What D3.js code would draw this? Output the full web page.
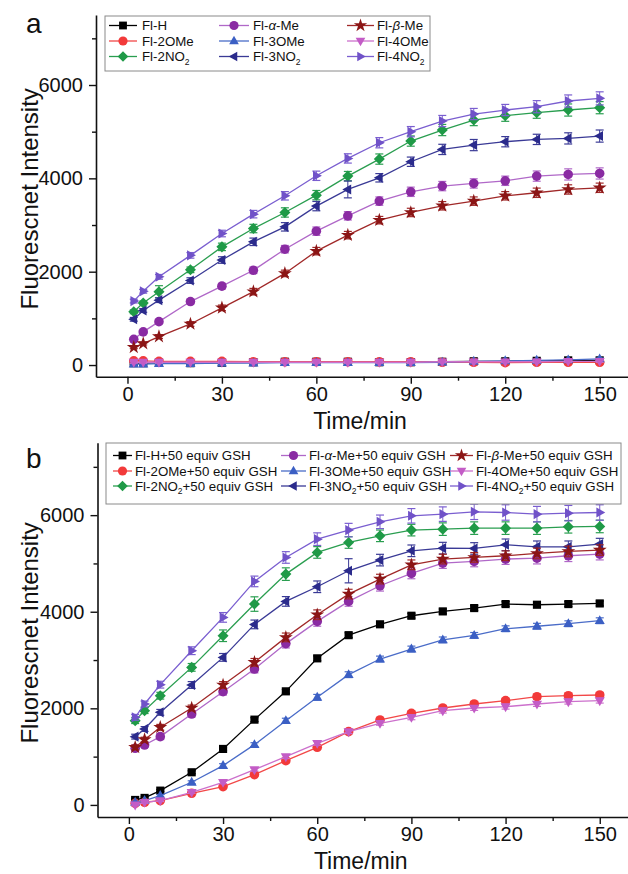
<!DOCTYPE html>
<html><head><meta charset="utf-8">
<script src="https://cdn.jsdelivr.net/npm/d3@7"></script>
<style>
html,body{margin:0;padding:0;background:#fff;}
svg{display:block;font-family:"Liberation Sans",Arial,sans-serif;}
</style></head>
<body><svg id="chart" width="628" height="874"></svg>
<script>
// ---------- data ----------
const time = [2,5,10,20,30,40,50,60,70,80,90,100,110,120,130,140,150];
const xTicks = [0,30,60,90,120,150];
const xMinor = [15,45,75,105,135];
const yTicks = [0,2000,4000,6000];
const yMinor = [1000,3000,5000,7000];

const seriesKeys = ["H","2OMe","2NO2","aMe","3OMe","3NO2","bMe","4OMe","4NO2"];

// panel a (no GSH)
const a_H    = [40,40,50,40,50,60,70,70,70,60,60,70,80,80,90,100,100];
const a_2OMe = [90,90,80,80,80,70,70,70,70,70,70,60,60,50,60,60,60];
const a_2NO2 = [1140,1330,1570,2040,2532,2925,3269,3640,4048,4413,4799,5035,5249,5342,5407,5464,5514];
const a_aMe  = [550,710,930,1360,1690,2030,2482,2868,3197,3512,3712,3834,3891,3948,4048,4084,4105];
const a_3OMe = [20,20,30,30,40,40,50,50,50,50,50,60,80,90,100,110,130];
const a_3NO2 = [980,1170,1390,1810,2250,2640,2961,3405,3762,4012,4356,4620,4713,4785,4835,4856,4906];
const a_bMe  = [380,460,610,880,1225,1572,1963,2440,2783,3104,3269,3412,3512,3626,3691,3762,3798];
const a_4OMe = [60,60,60,60,60,60,60,60,60,60,60,70,70,70,70,80,80];
const a_4NO2 = [1370,1580,1890,2350,2818,3233,3626,4055,4427,4763,5000,5228,5378,5464,5535,5657,5714];

// panel a error bars (half-widths)
const aErr_H    = [20,20,20,20,20,20,20,20,20,20,20,20,20,20,20,20,20];
const aErr_2OMe = [20,20,20,20,20,20,20,20,20,20,20,20,20,20,20,20,20];
const aErr_2NO2 = [40,40,130,60,80,90,100,100,100,110,110,120,120,120,120,130,130];
const aErr_aMe  = [30,30,40,50,60,70,80,90,90,90,100,100,100,100,110,120,120];
const aErr_3OMe = [20,20,20,20,20,20,20,20,20,20,20,20,20,20,20,20,20];
const aErr_3NO2 = [40,40,50,60,70,80,90,100,180,90,100,110,120,110,110,120,130];
const aErr_bMe  = [30,30,40,50,60,70,70,80,80,80,90,90,90,90,100,100,100];
const aErr_4OMe = [20,20,20,20,20,20,20,20,20,20,20,20,20,20,20,20,20];
const aErr_4NO2 = [40,40,50,60,70,80,90,100,100,110,110,120,120,120,130,130,140];

// panel b (+50 equiv GSH)
const b_H    = [103,145,296,676,1159,1766,2352,3035,3515,3740,3917,4007,4076,4159,4145,4159,4172];
const b_2OMe = [34,55,90,241,379,628,917,1193,1517,1759,1897,2007,2090,2159,2241,2262,2276];
const b_2NO2 = [1745,1952,2262,2848,3503,4159,4779,5228,5434,5572,5690,5710,5731,5731,5731,5759,5766];
const b_aMe  = [1172,1241,1414,1883,2345,2814,3340,3800,4214,4538,4793,5007,5041,5090,5110,5159,5193];
const b_3OMe = [55,90,193,469,814,1248,1745,2228,2697,3021,3228,3417,3510,3648,3700,3752,3814];
const b_3NO2 = [1414,1572,1917,2483,3055,3738,4214,4517,4848,5069,5262,5317,5310,5386,5345,5345,5400];
const b_bMe  = [1193,1352,1607,2007,2483,2952,3469,3938,4365,4676,4972,5090,5124,5159,5207,5248,5276];
const b_4OMe = [0,55,90,262,469,731,1000,1276,1517,1690,1814,1952,2007,2034,2090,2138,2159];
const b_4NO2 = [1814,2090,2490,3193,3883,4628,5124,5503,5690,5862,5986,6021,6069,6055,6021,6041,6055];

const bErr_H    = [20,20,20,30,30,40,40,50,50,50,50,50,50,50,50,50,50];
const bErr_2OMe = [20,20,20,20,30,30,40,40,40,40,50,50,50,50,50,50,50];
const bErr_2NO2 = [60,60,70,80,120,150,130,120,120,120,120,130,130,130,130,130,130];
const bErr_aMe  = [50,50,60,60,70,80,90,100,100,110,110,110,110,110,120,120,120];
const bErr_3OMe = [20,20,20,30,40,40,50,60,60,60,60,60,60,60,60,60,60];
const bErr_3NO2 = [50,50,60,70,80,90,100,120,250,120,120,120,120,120,120,120,120];
const bErr_bMe  = [50,50,60,60,70,80,90,100,100,100,100,100,100,100,110,110,110];
const bErr_4OMe = [20,20,20,20,30,30,40,40,40,40,50,50,50,50,50,50,50];
const bErr_4NO2 = [60,60,70,80,100,110,120,130,140,140,150,150,160,160,160,160,160];

// ---------- styles ----------
const markerColor = {H:"#000000","2OMe":"#f23a3a","2NO2":"#1f9a47",aMe:"#8a2ba3","3OMe":"#3b5fc4","3NO2":"#2b2b8c",bMe:"#8b1515","4OMe":"#c35cc6","4NO2":"#7052c8"};
const lineColor   = {H:"#000000","2OMe":"#f24848","2NO2":"#2a9e50",aMe:"#b068c8","3OMe":"#4a6cc8","3NO2":"#3a3a96",bMe:"#a02828","4OMe":"#cc70cc","4NO2":"#7a5ed0"};
const shape = {H:"square","2OMe":"circle","2NO2":"diamond",aMe:"circle","3OMe":"up","3NO2":"left",bMe:"star","4OMe":"down","4NO2":"right"};
const labelParts = {
  H:[["Fl-H"]],
  "2OMe":[["Fl-2OMe"]],
  "2NO2":[["Fl-2NO"],["2","sub"]],
  aMe:[["Fl-"],["α","i"],["-Me"]],
  "3OMe":[["Fl-3OMe"]],
  "3NO2":[["Fl-3NO"],["2","sub"]],
  bMe:[["Fl-"],["β","i"],["-Me"]],
  "4OMe":[["Fl-4OMe"]],
  "4NO2":[["Fl-4NO"],["2","sub"]]
};
// legend grid: rows x cols
const legendGrid = [["H","aMe","bMe"],["2OMe","3OMe","4OMe"],["2NO2","3NO2","4NO2"]];

const panelA = {H:a_H,"2OMe":a_2OMe,"2NO2":a_2NO2,aMe:a_aMe,"3OMe":a_3OMe,"3NO2":a_3NO2,bMe:a_bMe,"4OMe":a_4OMe,"4NO2":a_4NO2};
const errA = {H:aErr_H,"2OMe":aErr_2OMe,"2NO2":aErr_2NO2,aMe:aErr_aMe,"3OMe":aErr_3OMe,"3NO2":aErr_3NO2,bMe:aErr_bMe,"4OMe":aErr_4OMe,"4NO2":aErr_4NO2};
const panelB = {H:b_H,"2OMe":b_2OMe,"2NO2":b_2NO2,aMe:b_aMe,"3OMe":b_3OMe,"3NO2":b_3NO2,bMe:b_bMe,"4OMe":b_4OMe,"4NO2":b_4NO2};
const errB = {H:bErr_H,"2OMe":bErr_2OMe,"2NO2":bErr_2NO2,aMe:bErr_aMe,"3OMe":bErr_3OMe,"3NO2":bErr_3NO2,bMe:bErr_bMe,"4OMe":bErr_4OMe,"4NO2":bErr_4NO2};

function markerPath(type, s){
  switch(type){
    case "square": return `M${-s*0.85},${-s*0.85}h${s*1.7}v${s*1.7}h${-s*1.7}Z`;
    case "circle": return d3.symbol(d3.symbolCircle, Math.PI*s*s)();
    case "diamond": return `M0,${-s*1.15}L${s*1.15},0L0,${s*1.15}L${-s*1.15},0Z`;
    case "up": return `M0,${-s*1.15}L${s*1.05},${s*0.7}L${-s*1.05},${s*0.7}Z`;
    case "down": return `M0,${s*1.15}L${s*1.05},${-s*0.7}L${-s*1.05},${-s*0.7}Z`;
    case "left": return `M${-s*1.15},0L${s*0.7},${-s*1.05}L${s*0.7},${s*1.05}Z`;
    case "right": return `M${s*1.15},0L${-s*0.7},${-s*1.05}L${-s*0.7},${s*1.05}Z`;
    case "star": return d3.symbol(d3.symbolStar, s*s*2.6)();
  }
}

const svg = d3.select("#chart");

function drawPanel(cfg){
  const {data, err, xRange, yRange, letter, letterPos, suffix, legend} = cfg;
  const x = d3.scaleLinear().domain([-10,159]).range(xRange);
  const y = d3.scaleLinear().domain([-250,7500]).range(yRange);
  const g = svg.append("g");

  // axes
  g.append("g").attr("transform",`translate(${xRange[0]},0)`)
    .call(d3.axisLeft(y).tickValues(yTicks).tickSize(7).tickSizeOuter(0).tickPadding(6).tickFormat(d3.format("d")));
  g.append("g").attr("transform",`translate(${xRange[0]},0)`)
    .call(d3.axisLeft(y).tickValues(yMinor).tickSize(4).tickFormat("")).select(".domain").remove();
  g.append("g").attr("transform",`translate(0,${yRange[0]})`)
    .call(d3.axisBottom(x).tickValues(xTicks).tickSize(7).tickSizeOuter(0).tickPadding(3));
  g.append("g").attr("transform",`translate(0,${yRange[0]})`)
    .call(d3.axisBottom(x).tickValues(xMinor).tickSize(4).tickFormat("")).select(".domain").remove();
  g.selectAll(".domain").attr("stroke","#111").attr("stroke-width",1.6);
  g.selectAll(".tick line").attr("stroke","#111").attr("stroke-width",1.4);
  g.selectAll(".tick text").attr("font-size",20).attr("fill","#111")
    .attr("font-family",'"Liberation Sans",Arial,sans-serif');

  // axis titles
  g.append("text").attr("x",(xRange[0]+xRange[1])/2 - 2).attr("y",yRange[0]+52)
    .attr("text-anchor","middle").attr("font-size",23).attr("fill","#111").text("Time/min");
  const ymid = (yRange[0]+yRange[1])/2 + 3;
  g.append("text").attr("transform",`translate(38,${ymid}) rotate(-90)`)
    .attr("text-anchor","middle").attr("font-size",24).attr("fill","#111").text("Fluorescnet Intensity");
  g.append("text").attr("x",letterPos[0]).attr("y",letterPos[1]).attr("font-size",28).attr("fill","#111").text(letter);

  // series
  seriesKeys.forEach(k=>{
    const vals = data[k], ev = err[k];
    const pts = time.map((t,i)=>({t, v:vals[i], e:ev[i]}));
    const sg = g.append("g");
    pts.forEach(p=>{
      const cx = x(p.t), y1 = y(p.v+p.e), y2 = y(p.v-p.e);
      sg.append("line").attr("x1",cx).attr("x2",cx).attr("y1",y1).attr("y2",y2).attr("stroke",lineColor[k]).attr("stroke-width",1);
      [y1,y2].forEach(yy=>sg.append("line").attr("x1",cx-4).attr("x2",cx+4).attr("y1",yy).attr("y2",yy).attr("stroke",lineColor[k]).attr("stroke-width",1.2));
    });
    sg.append("path").datum(pts)
      .attr("d", d3.line().x(p=>x(p.t)).y(p=>y(p.v)))
      .attr("fill","none").attr("stroke",lineColor[k]).attr("stroke-width",1.3);
    sg.selectAll("path.m").data(pts).join("path").attr("class","m")
      .attr("transform",p=>`translate(${x(p.t)},${y(p.v)})`)
      .attr("d",markerPath(shape[k],4.8)).attr("fill",markerColor[k]);
  });

  // legend
  const L = legend;
  g.append("rect").attr("x",L.box[0]).attr("y",L.box[1]).attr("width",L.box[2]).attr("height",L.box[3])
    .attr("fill","#fff").attr("stroke","#8a8a8a").attr("stroke-width",1);
  legendGrid.forEach((row,ri)=>{
    row.forEach((k,ci)=>{
      const c = L.cols[ci], yy = L.rows[ri];
      g.append("line").attr("x1",c[0]).attr("x2",c[1]).attr("y1",yy).attr("y2",yy).attr("stroke",lineColor[k]).attr("stroke-width",1.3);
      g.append("path").attr("transform",`translate(${(c[0]+c[1])/2},${yy})`).attr("d",markerPath(shape[k],4.6)).attr("fill",markerColor[k]);
      const t = g.append("text").attr("x",c[2]).attr("y",yy+4.6).attr("font-size",13.3).attr("fill","#111");
      labelParts[k].forEach(p=>{
        const ts = t.append("tspan").text(p[0]);
        if(p[1]==="i") ts.attr("font-style","italic");
        if(p[1]==="sub") ts.attr("font-size",8.5).attr("dy",3.5);
      });
      if(labelParts[k].some(p=>p[1]==="sub")){
        if(suffix) t.append("tspan").attr("dy",-3.5).text(suffix);
      } else if(suffix){ t.append("tspan").text(suffix); }
    });
  });
}

drawPanel({
  data: panelA, err: errA, xRange:[96,628], yRange:[376.7,15],
  letter:"a", letterPos:[26,33], suffix:"",
  legend:{box:[105,16,325,55], rows:[25.5,41,56.5],
    cols:[[109,137,142],[219,249,253],[347,374,377]]}
});
drawPanel({
  data: panelB, err: errB, xRange:[97.5,628], yRange:[817,442.7],
  letter:"b", letterPos:[26,468], suffix:"+50 equiv GSH",
  legend:{box:[106,443,515,61], rows:[455.5,471,486],
    cols:[[113,132,135],[281,306,309],[450,473,476]]}
});
</script>
</body></html>
